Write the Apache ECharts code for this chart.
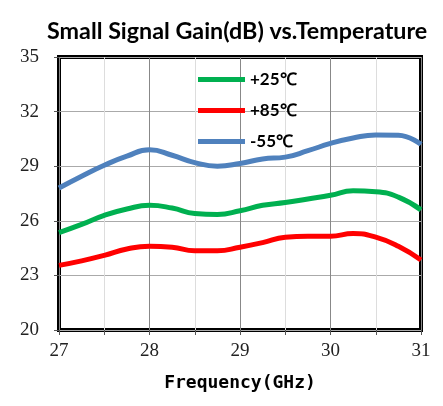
<!DOCTYPE html>
<html><head><meta charset="utf-8">
<script src="https://cdn.jsdelivr.net/npm/echarts@6/dist/echarts.min.js"></script>
<style>html,body{margin:0;padding:0;background:#fff}#c{width:443px;height:406px}</style>
</head><body><div id="c"></div>
<script>
const freq = [27,27.25,27.5,27.75,28,28.25,28.5,28.75,29,29.25,29.5,29.75,30,30.25,30.5,30.75,31];
const gain25 = [25.35,25.8,26.3,26.65,26.85,26.7,26.4,26.35,26.55,26.85,27.0,27.2,27.4,27.65,27.6,27.3,26.6];
const gain85 = [23.55,23.8,24.1,24.45,24.6,24.55,24.35,24.35,24.55,24.8,25.1,25.15,25.15,25.3,25.1,24.6,23.85];
const gainM55 = [27.8,28.45,29.05,29.55,29.9,29.6,29.2,29.0,29.15,29.4,29.5,29.85,30.25,30.55,30.72,30.7,30.2];
const seriesNames = ['+25℃','+85℃','-55℃'];
const colors = ['#00B050','#FF0000','#4F81BD'];
const yTicks = [20,23,26,29,32,35];

const chart = echarts.init(document.getElementById('c'));
const mk = (name, vals, color) => ({
  name, type:'line', smooth:0.5, showSymbol:false, symbol:'none',
  data: freq.map((f,i)=>[f, vals[i]]),
  lineStyle:{color, width:5}, itemStyle:{color}
});
chart.setOption({
  animation:false,
  title:{text:'Small Signal Gain(dB) vs.Temperature', left:42, top:15,
    textStyle:{fontFamily:'Lato', fontWeight:'bold', fontSize:23.3, color:'#000'}},
  grid:{left:59, right:22, top:57, bottom:76, show:true, borderColor:'#000', borderWidth:4, backgroundColor:'transparent'},
  legend:{orient:'vertical', left:193, top:66, itemWidth:47, itemHeight:5, itemGap:14,
    icon:'rect',
    textStyle:{fontFamily:'Lato', fontWeight:'bold', fontSize:17, color:'#000'},
    data: seriesNames},
  xAxis:{type:'value', min:27, max:31, interval:0.5,
    name:'Frequency(GHz)', nameLocation:'middle', nameGap:44,
    nameTextStyle:{fontFamily:'DejaVu Sans Mono', fontWeight:'bold', fontSize:18, color:'#000'},
    axisLine:{show:false},
    axisTick:{show:true, length:5, lineStyle:{color:'#555'}},
    axisLabel:{margin:12, fontFamily:'Liberation Serif', fontSize:19, color:'#222',
      formatter:v=> Number.isInteger(v)? String(v):''},
    splitLine:{show:true, lineStyle:{color:['#888','#ddd'], width:1}}},
  yAxis:{type:'value', min:20, max:35, interval:3,
    axisLine:{show:false},
    axisTick:{show:true, length:5, lineStyle:{color:'#555'}},
    axisLabel:{margin:20, fontFamily:'Liberation Serif', fontSize:19, color:'#222',
      formatter:v=> yTicks.includes(v)? String(v):''},
    splitLine:{show:true, lineStyle:{color:'#aaa', width:1}}},
  series:[mk(seriesNames[0],gain25,colors[0]), mk(seriesNames[1],gain85,colors[1]), mk(seriesNames[2],gainM55,colors[2])]
});
</script></body></html>
